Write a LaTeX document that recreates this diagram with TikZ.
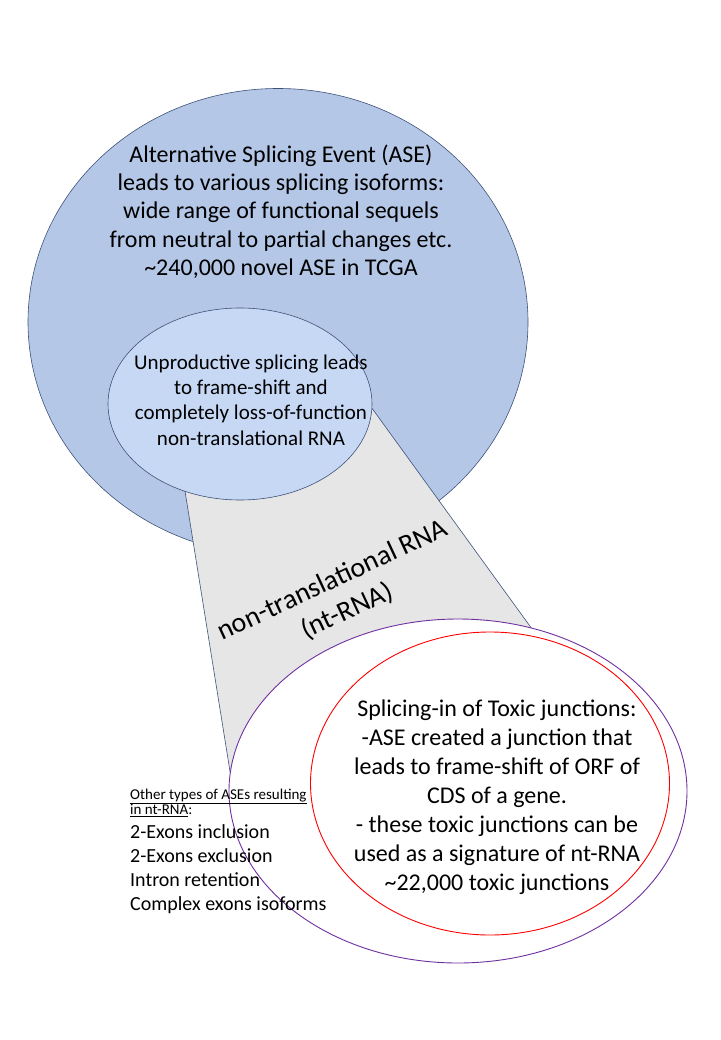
\documentclass[tikz,border=0pt]{standalone}
\usepackage{fontspec}
\setmainfont{Carlito}
\usepackage{xcolor}
\usetikzlibrary{positioning,shapes.geometric}

\definecolor{aseblue}{RGB}{180,199,231}
\definecolor{unprodblue}{RGB}{199,216,245}
\definecolor{ntgrey}{RGB}{230,230,230}
\definecolor{edgeblue}{RGB}{62,82,120}
\definecolor{ntpurple}{RGB}{112,48,160}

\begin{document}
\begin{tikzpicture}[x=1pt, y=-1pt,
			blob/.style={
				draw=edgeblue, ellipse, line width=0.6pt, inner sep=0pt
			},
			ring/.style={
				ellipse, fill=white, line width=0.9pt, inner sep=0pt
			},
			bigtext/.style={align=center, inner sep=0pt, font=\fontsize{24}{28.3}\selectfont},
			midtext/.style={align=center, inner sep=0pt, font=\fontsize{21}{25.3}\selectfont},
			smalltext/.style={align=left, inner sep=0pt, font=\fontsize{15}{15}\selectfont},
			listtext/.style={align=left, inner sep=0pt, font=\fontsize{20}{24.3}\selectfont}
			]
			\useasboundingbox (0,0) rectangle (720,1040);
			
			%==================== ASE ====================
			\node[blob, fill=aseblue, minimum width=500pt, minimum height=467pt] (ase) at (278,322) {};
			
			%==================== nt-RNA ====================
			\draw[draw=edgeblue, fill=ntgrey, line width=0.6pt]
			(180,460) -- (366,400) -- (540,640) -- (233,790) -- cycle;
			
			\node[blob, fill=unprodblue, minimum width=264pt, minimum height=192pt] (unprod) at (240,404) {};
			
			%==================== toxic junctions ====================
			\node[ring, draw=ntpurple, minimum width=458pt, minimum height=344pt] (ntrna) at (458,791) {};
			\node[ring, draw=red, minimum width=359pt, minimum height=303pt] (toxic) at (490,783.5) {};
			
			%==================== texts ====================
			\node[bigtext] (asetext) at (281,211.5) {
				Alternative Splicing Event (ASE)\\
				leads to various splicing isoforms:\\
				wide range of functional sequels\\
				from neutral to partial changes etc.\\
				\textasciitilde240,000 novel ASE in TCGA
			};
			
			\node[midtext] (unprodtext) at (251,400) {
				Unproductive splicing leads\\
				to frame-shift and\\
				completely loss-of-function\\
				non-translational RNA
			};
			
			\node[align=center, inner sep=0pt, rotate=25,
			font=\fontsize{28}{34}\selectfont] (ntlabel) at (340,596) {
				non-translational RNA\\
				(nt-RNA)
			};
			
			\node[bigtext, font=\fontsize{24}{29}\selectfont] (toxictext) at (497,797) {
				Splicing-in of Toxic junctions:\\
				-ASE created a junction that\\
				leads to frame-shift of ORF of\\
				CDS of a gene.\\
				- these toxic junctions can be\\
				used as a signature of nt-RNA\\
				\textasciitilde22,000 toxic junctions
			};
			
			\node[smalltext, anchor=north west] (othertypes) at (130,789) {
				\underline{Other types of ASEs resulting}\\
				\underline{in nt-RNA}:
			};
			
			\node[listtext, below=7pt of othertypes.south west, anchor=north west] (asetypes) {
				2-Exons inclusion\\
				2-Exons exclusion\\
				Intron retention\\
				Complex exons isoforms
			};
			
		\end{tikzpicture}
\end{document}
